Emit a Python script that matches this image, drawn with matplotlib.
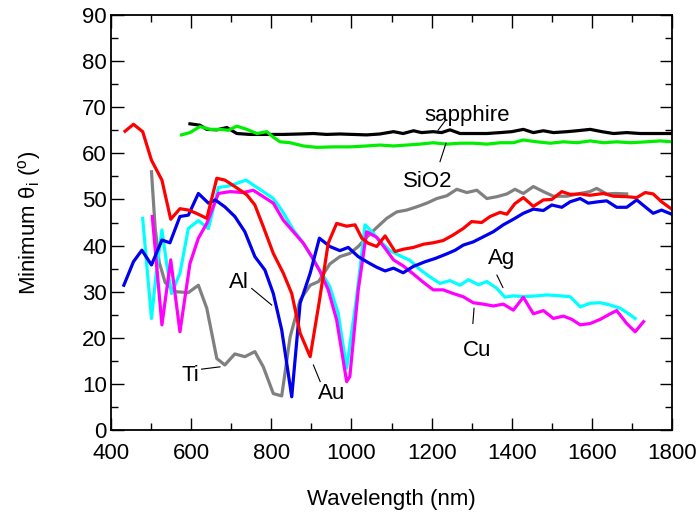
import matplotlib
matplotlib.use('Agg')
import matplotlib.pyplot as plt
from matplotlib.ticker import MultipleLocator

# 数据: 波长(nm) 和 最小入射角(度)
au_wl = [435, 456, 479, 501, 527, 549, 572, 593, 613, 639, 664, 684, 709, 739, 759, 780, 805, 830, 851, 872,
         897, 920, 942, 963, 988, 1009, 1026, 1042, 1063, 1084, 1109, 1129, 1155, 1180, 1204, 1229, 1254, 1279,
         1300, 1325, 1346, 1371, 1388, 1408, 1429, 1454, 1479, 1500, 1525, 1546, 1571, 1595, 1629, 1654, 1687,
         1712, 1733, 1753, 1774, 1799]
au_val = [64.8, 66.3, 64.7, 58.5, 54.2, 45.7, 48.0, 47.7, 47.0, 45.9, 54.6, 54.2, 52.8, 51.0, 48.8, 44.1, 38.3,
          34.0, 29.6, 21.0, 15.9, 28.0, 40.5, 44.8, 44.2, 44.5, 41.6, 40.5, 39.8, 42.1, 38.7, 39.2, 39.6, 40.3,
          40.6, 41.1, 42.3, 43.7, 45.2, 45.0, 46.3, 47.2, 46.8, 49.1, 50.4, 48.5, 49.9, 50.0, 51.7, 51.1, 51.2,
          50.9, 51.3, 50.7, 50.6, 50.4, 51.5, 51.2, 49.5, 47.9]

al_wl = [432, 456, 477, 501, 527, 547, 572, 593, 618, 643, 660, 684, 709, 734, 759, 784, 805, 826, 851, 872,
         897, 920, 946, 971, 992, 1017, 1042, 1063, 1084, 1105, 1129, 1155, 1184, 1209, 1238, 1259, 1279, 1304,
         1329, 1354, 1379, 1404, 1429, 1454, 1479, 1500, 1525, 1546, 1571, 1591, 1616, 1637, 1662, 1687, 1712,
         1733, 1753, 1774, 1799]
al_val = [31.4, 36.5, 39.0, 35.8, 41.2, 40.6, 46.3, 46.6, 51.3, 49.2, 49.9, 48.4, 46.3, 43.0, 37.6, 34.7, 29.6,
          21.7, 7.2, 27.5, 34.0, 41.6, 39.8, 38.9, 39.6, 37.6, 36.3, 35.3, 34.5, 35.1, 34.1, 35.5, 36.5, 37.2,
          38.2, 39.0, 40.1, 40.8, 41.9, 43.0, 44.5, 45.7, 47.0, 47.9, 47.6, 48.8, 48.3, 49.5, 50.2, 49.2, 49.5,
          49.7, 48.3, 48.3, 49.9, 48.4, 47.0, 47.7, 46.8]

ti_wl = [501, 510, 520, 535, 560, 593, 618, 639, 664, 684, 709, 734, 759, 780, 805, 826, 847, 872, 897, 918,
         946, 971, 996, 1017, 1038, 1063, 1088, 1113, 1138, 1163, 1188, 1213, 1238, 1263, 1288, 1313, 1338, 1363,
         1388, 1408, 1429, 1454, 1479, 1504, 1538, 1571, 1595, 1612, 1637, 1658, 1687]
ti_val = [56.0, 44.0, 36.5, 32.0, 30.0, 29.8, 31.4, 26.4, 15.5, 14.1, 16.5, 15.9, 17.0, 13.7, 7.9, 7.4, 20.2,
          28.2, 31.4, 32.2, 36.0, 37.6, 38.3, 39.8, 41.8, 43.9, 45.9, 47.3, 47.7, 48.4, 49.2, 50.2, 50.8, 52.2,
          51.5, 52.0, 50.2, 50.6, 51.2, 52.2, 51.3, 52.8, 51.7, 50.7, 50.7, 51.3, 51.7, 52.4, 51.2, 51.3, 51.2]

ag_wl = [479, 501, 514, 527, 539, 551, 572, 593, 618, 643, 668, 693, 714, 737, 759, 780, 805, 826, 855, 880,
         905, 926, 946, 967, 988, 1013, 1034, 1051, 1071, 1096, 1121, 1146, 1171, 1196, 1221, 1246, 1271, 1292,
         1317, 1338, 1363, 1383, 1404, 1429, 1463, 1488, 1521, 1546, 1571, 1596, 1621, 1646, 1671, 1692, 1708]
ag_val = [45.9, 24.2, 35.0, 43.4, 36.0, 29.6, 34.0, 43.7, 45.4, 43.7, 52.6, 52.9, 53.5, 54.2, 52.9, 51.7, 50.2,
          47.7, 43.4, 40.5, 36.9, 34.0, 31.1, 25.3, 13.4, 28.9, 44.5, 43.0, 41.0, 38.9, 37.8, 36.8, 34.8, 33.2,
          31.8, 32.4, 31.4, 32.6, 31.5, 32.2, 30.7, 28.8, 29.1, 28.9, 29.1, 29.3, 29.1, 28.9, 26.7, 27.5, 27.6,
          27.1, 26.4, 25.2, 24.2]

cu_wl = [503, 527, 549, 572, 597, 618, 639, 668, 697, 730, 755, 780, 805, 830, 859, 880, 901, 922, 942, 963,
         988, 996, 1017, 1038, 1063, 1084, 1105, 1129, 1155, 1180, 1204, 1229, 1254, 1279, 1304, 1329, 1354, 1379,
         1404, 1429, 1454, 1479, 1504, 1529, 1550, 1571, 1596, 1621, 1646, 1662, 1687, 1708, 1729]
cu_val = [46.3, 22.8, 36.9, 21.3, 36.1, 41.6, 44.8, 51.3, 51.7, 51.5, 52.0, 50.6, 49.2, 45.5, 42.6, 40.5, 37.6,
          34.3, 30.4, 23.9, 10.5, 11.6, 30.4, 43.0, 41.8, 39.4, 36.9, 35.6, 33.8, 32.0, 30.4, 30.4, 29.6, 28.9,
          27.6, 27.3, 26.9, 27.3, 26.0, 28.8, 25.2, 25.9, 24.2, 24.7, 24.0, 22.8, 23.1, 24.0, 25.2, 25.9, 23.1,
          21.3, 23.5]

sap_wl = [597, 622, 639, 664, 689, 714, 747, 789, 830, 872, 905, 938, 971, 1004, 1038, 1071, 1105, 1129, 1155,
          1175, 1204, 1225, 1246, 1271, 1304, 1338, 1371, 1400, 1429, 1454, 1479, 1504, 1538, 1563, 1596, 1625,
          1654, 1687, 1721, 1762, 1799]
sap_val = [66.4, 66.1, 65.2, 65.1, 65.6, 64.3, 64.1, 64.1, 64.1, 64.2, 64.3, 64.1, 64.2, 64.1, 64.0, 64.2, 64.7,
           64.3, 64.9, 64.5, 64.7, 64.5, 65.1, 64.3, 64.3, 64.3, 64.5, 64.7, 65.2, 64.5, 64.9, 64.5, 64.7, 64.9,
           65.2, 64.7, 64.3, 64.5, 64.3, 64.3, 64.3]

sio2_wl = [576, 597, 622, 647, 672, 693, 714, 739, 764, 789, 805, 822, 847, 880, 913, 955, 996, 1038, 1071, 1105,
           1138, 1171, 1204, 1238, 1271, 1304, 1338, 1371, 1404, 1429, 1463, 1496, 1529, 1563, 1596, 1629, 1662,
           1696, 1737, 1771, 1799]
sio2_val = [64.0, 64.5, 65.8, 65.2, 65.2, 65.0, 65.9, 65.2, 64.3, 64.7, 63.5, 62.5, 62.3, 61.6, 61.3, 61.4, 61.4,
            61.6, 61.8, 61.6, 61.8, 62.0, 62.3, 62.0, 62.2, 62.2, 62.0, 62.3, 62.3, 62.9, 62.5, 62.2, 62.5, 62.3,
            62.7, 62.3, 62.5, 62.3, 62.5, 62.7, 62.5]

plt.rcParams['font.family'] = ['Liberation Sans', 'DejaVu Sans']
plt.rcParams['mathtext.fontset'] = 'custom'
plt.rcParams['mathtext.rm'] = 'Liberation Sans'
plt.rcParams['mathtext.it'] = 'Liberation Sans'

fig = plt.figure(figsize=(7, 5.14), dpi=100)
ax = fig.add_axes([0.1586, 0.1634, 0.8014, 0.8074])

lw = 2.3
ax.plot(ti_wl, ti_val, color='#808080', lw=lw)
ax.plot(sap_wl, sap_val, color='black', lw=lw)
ax.plot(sio2_wl, sio2_val, color='#00ee00', lw=lw)
ax.plot(ag_wl, ag_val, color='cyan', lw=lw)
ax.plot(cu_wl, cu_val, color='magenta', lw=lw)
ax.plot(al_wl, al_val, color='#0000ee', lw=lw)
ax.plot(au_wl, au_val, color='red', lw=lw)

# 标注
fs = 16
ax.text(1183, 68.3, 'sapphire', fontsize=fs, va='center')
ax.plot([1216, 1236], [65.0, 67.3], color='black', lw=0.8)
ax.text(1129, 54.0, 'SiO2', fontsize=fs, va='center')
ax.plot([1221, 1236], [58.2, 62.2], color='black', lw=0.8)
ax.text(1341, 37.1, 'Ag', fontsize=fs, va='center')
ax.plot([1363, 1378], [33.6, 30.9], color='black', lw=0.8)
ax.text(1278, 17.3, 'Cu', fontsize=fs, va='center')
ax.plot([1306, 1303], [26.4, 23.1], color='black', lw=0.8)
ax.text(694, 31.9, 'Al', fontsize=fs, va='center')
ax.plot([751, 801], [30.7, 27.1], color='black', lw=0.8)
ax.text(575, 11.9, 'Ti', fontsize=fs, va='center')
ax.plot([626, 672], [13.2, 13.7], color='black', lw=0.8)
ax.text(917, 8.0, 'Au', fontsize=fs, va='center')
ax.plot([905, 922], [14.1, 10.5], color='black', lw=0.8)

ax.set_xlim(400, 1800)
ax.set_ylim(0, 90)
ax.xaxis.set_major_locator(MultipleLocator(200))
ax.xaxis.set_minor_locator(MultipleLocator(100))
ax.yaxis.set_major_locator(MultipleLocator(10))
ax.yaxis.set_minor_locator(MultipleLocator(5))
ax.tick_params(which='both', direction='in', top=True, right=True, labelsize=16, width=1, pad=3)
ax.tick_params(axis='x', which='both', pad=9)
ax.tick_params(which='major', length=9)
ax.tick_params(which='minor', length=5)
for sp in ax.spines.values():
    sp.set_linewidth(1.3)

ax.set_xlabel('Wavelength (nm)', fontsize=16, labelpad=18)
ax.set_ylabel(r'Minimum θ$_\mathregular{i}$ ($^\mathregular{o}$)', fontsize=16, labelpad=28)

plt.savefig('out.png', dpi=100)
